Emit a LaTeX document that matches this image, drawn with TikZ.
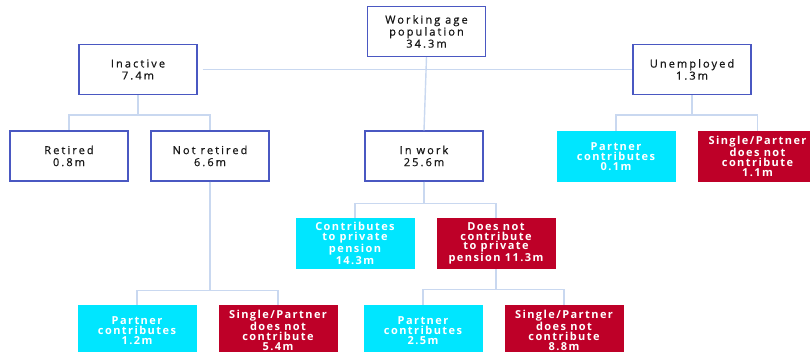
\documentclass[tikz,border=0pt]{standalone}
\usepackage{fontspec}
\setmainfont{Open Sans}
\newfontfamily\groupfont{Open Sans}[LetterSpace=19,FakeBold=0.8]
\newfontfamily\sharefont{Open Sans}[LetterSpace=13]
\definecolor{boxblue}{HTML}{4A58C2}
\definecolor{linkblue}{HTML}{C9D8F0}
\definecolor{poscyan}{HTML}{00E6FF}
\definecolor{negred}{HTML}{BE0028}

\begin{document}
\begin{tikzpicture}[x=1pt, y=-1pt,
  group/.style={draw=boxblue, line width=1.1pt, fill=white, minimum width=118pt,
    minimum height=50pt, align=center, text=black!90,
    font=\groupfont\fontsize{11}{12}\selectfont},
  share/.style={minimum width=119pt, minimum height=51pt, align=center,
    text=white, inner sep=1pt, font=\sharefont\bfseries\fontsize{11}{9.8}\selectfont},
  yesbox/.style={share, fill=poscyan},
  nobox/.style={share, fill=negred},
  link/.style={draw=linkblue, line width=1.4pt}]

  % Page
  \clip (0,0) rectangle (810,352);
  \fill[white] (0,0) rectangle (810,352);

  % Top level
  \node[group] (pop) at (426.5,31.5) {Working age\\population\\34.3m};

  % Second level
  \node[group] (inactive) at (138,69.5) {Inactive\\7.4m};
  \node[group] (unemployed) at (692,69.5) {Unemployed\\1.3m};
  \node[group] (retired) at (69,156) {Retired\\0.8m};
  \node[group] (notretired) at (210,156) {Not retired\\6.6m};
  \node[group] (inwork) at (424,156) {In work\\25.6m};

  % Unemployed split
  \node[yesbox] (unempartner) at (616,156.5) {Partner\\contributes\\0.1m};
  \node[nobox] (unemsingle) at (757.5,156.5) {Single/Partner\\does not\\contribute\\1.1m};

  % In work split
  \node[yesbox] (contrib) at (355,243.5) {Contributes\\to private\\pension\\14.3m};
  \node[nobox] (nocontrib) at (496,243.5) {Does not\\contribute\\to private\\pension 11.3m};

  % Bottom level
  \node[yesbox] (nrpartner) at (137,330.5) {Partner\\contributes\\1.2m};
  \node[nobox] (nrsingle) at (278,330.5) {Single/Partner\\does not\\contribute\\5.4m};
  \node[yesbox] (ncpartner) at (423,330.5) {Partner\\contributes\\2.5m};
  \node[nobox] (ncsingle) at (564,330.5) {Single/Partner\\does not\\contribute\\8.8m};

  % Connectors
  \draw[link] ([xshift=5pt]inactive.east) -- (unemployed.west);
  \draw[link] (pop.south) -- (inwork.north);
  \draw[link] (inactive.south) -- ++(0,20) -| (retired.north);
  \draw[link] (inactive.south) -- ++(0,20) -| (notretired.north);
  \draw[link] (unemployed.south) -- ++(0,20) -| (unempartner.north);
  \draw[link] (unemployed.south) -- ++(0,20) -| (unemsingle.north);
  \draw[link] (inwork.south) -- ++(0,22) -| (contrib.north);
  \draw[link] (inwork.south) -- ++(0,22) -| (nocontrib.north);
  \draw[link] (notretired.south) -- ++(0,109) -| (nrpartner.north);
  \draw[link] (notretired.south) -- ++(0,109) -| (nrsingle.north);
  \draw[link] (nocontrib.south) -- ++(0,20) -| (ncpartner.north);
  \draw[link] (nocontrib.south) -- ++(0,20) -| (ncsingle.north);

\end{tikzpicture}
\end{document}
